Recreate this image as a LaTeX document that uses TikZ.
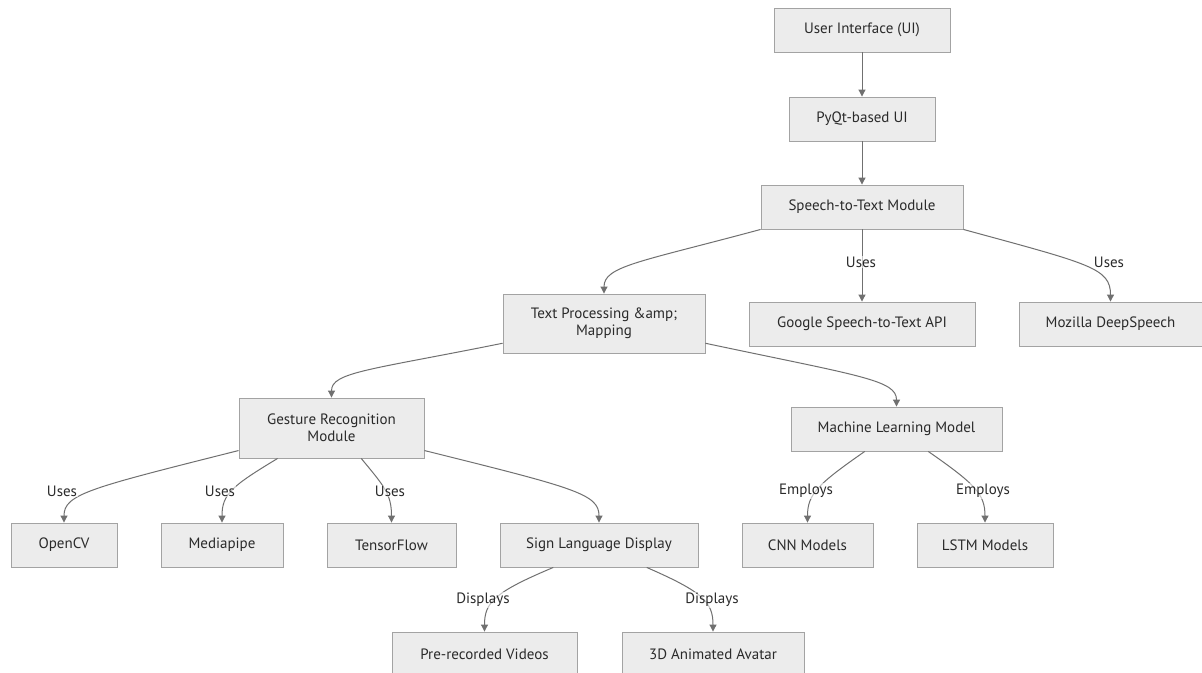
\documentclass[tikz,border=0pt]{standalone}
\usepackage{fontspec}
\setmainfont{PT Sans}
\usetikzlibrary{arrows.meta,calc}
\definecolor{boxfill}{HTML}{ECECEC}
\definecolor{boxline}{HTML}{A3A3A3}
\definecolor{edgecol}{HTML}{707070}
\definecolor{txt}{HTML}{2A2A2A}
\tikzset{
  box/.style={draw=boxline, fill=boxfill, line width=0.9pt, minimum height=44pt, inner sep=0pt, text=txt, align=center, font=\fontsize{15}{17}\selectfont},
  edge/.style={draw=edgecol, line width=1pt, -{Triangle[length=7pt,width=7pt]}},
  lbl/.style={fill=white, fill opacity=0.6, text opacity=1, text=txt, inner sep=1pt, font=\fontsize{15}{17}\selectfont}
}
\begin{document}
\begin{tikzpicture}[x=1pt,y=-1pt]
\useasboundingbox[fill=white] (0,0) rectangle (1202,672);
% nodes
\node[box, minimum width=176pt] (ui) at (862,30) {User Interface (UI)};
\node[box, minimum width=146pt] (pyqt) at (862,119) {PyQt-based UI};
\node[box, minimum width=202pt] (stt) at (862,207) {Speech-to-Text Module};
\node[box, minimum width=202pt, minimum height=59pt] (tp) at (604,323.5) {Text Processing \&amp;\\Mapping};
\node[box, minimum width=226pt] (google) at (862,324) {Google Speech-to-Text API};
\node[box, minimum width=183pt] (mozilla) at (1110.5,324) {Mozilla DeepSpeech};
\node[box, minimum width=185pt, minimum height=60pt] (gest) at (331.5,428) {Gesture Recognition\\Module};
\node[box, minimum width=211pt] (ml) at (896.5,429) {Machine Learning Model};
\node[box, minimum width=106pt] (opencv) at (64,545) {OpenCV};
\node[box, minimum width=122pt] (media) at (222,545) {Mediapipe};
\node[box, minimum width=129pt] (tensor) at (391.5,545) {TensorFlow};
\node[box, minimum width=198pt] (sld) at (599,545) {Sign Language Display};
\node[box, minimum width=131pt] (cnn) at (807.5,545) {CNN Models};
\node[box, minimum width=136pt] (lstm) at (985,545) {LSTM Models};
\node[box, minimum width=185pt] (prerec) at (484.5,654) {Pre-recorded Videos};
\node[box, minimum width=182pt] (avatar) at (713,654) {3D Animated Avatar};
% edges
\draw[edge] (ui.south) -- (pyqt.north);
\draw[edge] (pyqt.south) -- (stt.north);
\draw[edge] (stt.south west) .. controls (640,262) and (604,266) .. (tp.north);
\draw[edge] (stt.south) -- (google.north);
\draw[edge] (stt.south east) .. controls (1090,264) and (1110.5,268) .. (mozilla.north);
\draw[edge] ($(tp.south west)!0.17!(tp.north west)$) .. controls (370,370) and (331.5,372) .. (gest.north);
\draw[edge] ($(tp.south east)!0.17!(tp.north east)$) .. controls (860,376) and (896.5,380) .. (ml.north);
\draw[edge] ($(gest.south west)!0.13!(gest.north west)$) .. controls (90,488) and (64,494) .. (opencv.north);
\draw[edge] ($(gest.south west)!0.21!(gest.south east)$) .. controls (232,486) and (222,494) .. (media.north);
\draw[edge] ($(gest.south west)!0.66!(gest.south east)$) .. controls (384,486) and (391.5,494) .. (tensor.north);
\draw[edge] ($(gest.south east)!0.13!(gest.north east)$) .. controls (575,488) and (599,494) .. (sld.north);
\draw[edge] ($(ml.south west)!0.35!(ml.south east)$) .. controls (818,484) and (807.5,494) .. (cnn.north);
\draw[edge] ($(ml.south west)!0.65!(ml.south east)$) .. controls (975,484) and (985,494) .. (lstm.north);
\draw[edge] ($(sld.south west)!0.27!(sld.south east)$) .. controls (495,592) and (484.5,602) .. (prerec.north);
\draw[edge] ($(sld.south west)!0.74!(sld.south east)$) .. controls (703,592) and (713,602) .. (avatar.north);
% labels
\node[lbl] (l1) at (861,262) {Uses};
\node[lbl] (l2) at (1109,262) {Uses};
\node[lbl] (l3) at (62,491) {Uses};
\node[lbl] (l4) at (220,491) {Uses};
\node[lbl] (l5) at (390,491) {Uses};
\node[lbl] (l6) at (806,491) {Employs};
\node[lbl] (l7) at (983,491) {Employs};
\node[lbl] (l8) at (483,600) {Displays};
\node[lbl] (l9) at (712,600) {Displays};
\end{tikzpicture}
\end{document}
